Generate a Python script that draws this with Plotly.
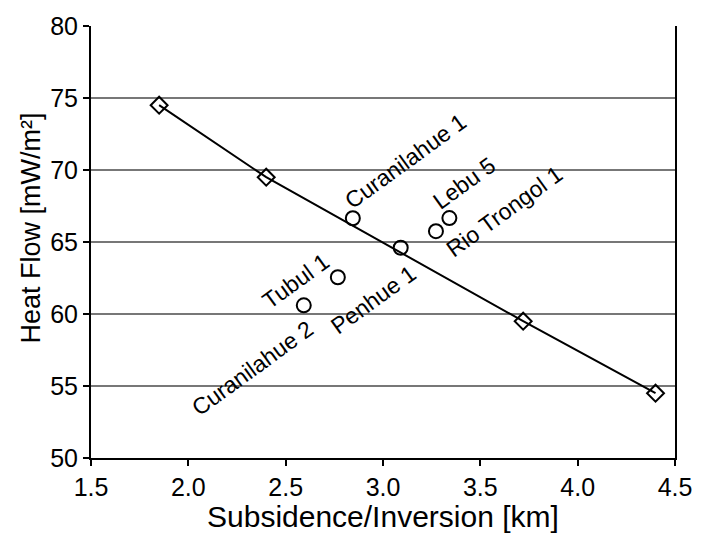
import plotly.graph_objects as go

# Regression line (diamonds)
line_x = [1.85, 2.40, 3.72, 4.40]
line_y = [74.5, 69.5, 59.5, 54.5]

# Wells (open circles)
well_names = ["Curanilahue 1", "Lebu 5", "Rio Trongol 1", "Penhue 1", "Tubul 1", "Curanilahue 2"]
well_x = [2.845, 3.341, 3.272, 3.091, 2.768, 2.593]
well_y = [66.65, 66.66, 65.75, 64.6, 62.55, 60.6]

x_ticks = [1.5, 2.0, 2.5, 3.0, 3.5, 4.0, 4.5]
y_ticks = [50, 55, 60, 65, 70, 75, 80]

# label offsets in pixels (xshift, yshift)
label_shift = [(53, 57), (15, 35), (69, 20), (-28, -52), (-42, -4), (-51, -63)]

FONT = "Liberation Sans, Arial, sans-serif"

fig = go.Figure()
fig.add_trace(go.Scatter(
    x=line_x, y=line_y, mode="lines+markers",
    line=dict(color="black", width=2),
    marker=dict(symbol="diamond-open", size=13, color="black", line=dict(width=2)),
    showlegend=False, cliponaxis=False,
))
fig.add_trace(go.Scatter(
    x=well_x, y=well_y, mode="markers",
    marker=dict(symbol="circle-open", size=14, color="black", line=dict(width=2)),
    showlegend=False, cliponaxis=False,
))

for name, x, y, (dx, dy) in zip(well_names, well_x, well_y, label_shift):
    fig.add_annotation(x=x, y=y, text=name, showarrow=False, textangle=-36,
                       xshift=dx, yshift=dy, xanchor="center", yanchor="middle",
                       font=dict(family=FONT, size=23, color="black"))

fig.add_annotation(xref="paper", yref="paper", x=-0.102, y=0.532, text="Heat Flow [mW/m²]",
                   showarrow=False, textangle=-90, xanchor="center", yanchor="middle",
                   font=dict(family=FONT, size=27, color="black"))
fig.add_annotation(xref="paper", yref="paper", x=0.5, y=-0.135, text="Subsidence/Inversion [km]",
                   showarrow=False, xanchor="center", yanchor="middle",
                   font=dict(family=FONT, size=30, color="black"))

fig.update_layout(
    width=704, height=538,
    margin=dict(l=91, r=16, t=21, b=80),
    paper_bgcolor="white", plot_bgcolor="white",
    font=dict(family=FONT, color="black"),
)
fig.update_xaxes(range=[1.5, 4.5], tickvals=x_ticks, ticktext=[f"{v:.1f}" for v in x_ticks],
                 showgrid=False, zeroline=False, showline=True, linecolor="black", linewidth=2,
                 ticks="outside", ticklen=6, tickwidth=2, tickcolor="black",
                 ticklabeloverflow="allow",
                 tickfont=dict(family=FONT, size=25, color="black"))
fig.update_yaxes(range=[50, 80], tickvals=y_ticks,
                 showgrid=True, gridcolor="#777777", gridwidth=2, zeroline=False,
                 showline=True, linecolor="black", linewidth=2, mirror=True,
                 ticks="outside", ticklen=6, tickwidth=2, tickcolor="black",
                 ticklabeloverflow="allow",
                 tickfont=dict(family=FONT, size=25, color="black"))

fig.write_html("out.html")
